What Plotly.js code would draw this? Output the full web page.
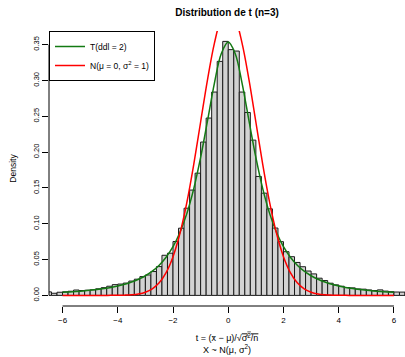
<!DOCTYPE html>
<html>
<head>
<meta charset="utf-8">
<script src="https://cdn.plot.ly/plotly-3.0.1.min.js"></script>
<style>html,body{margin:0;padding:0;background:#fff;}#chart{width:405px;height:357px;}</style>
</head>
<body>
<div id="chart"></div>
<script>
// Histogram bins (width 0.2), mid-points and observed densities
const binMids = [-6.5,-6.3,-6.1,-5.9,-5.7,-5.5,-5.3,-5.1,-4.9,-4.7,-4.5,-4.3,-4.1,-3.9,-3.7,-3.5,-3.3,-3.1,-2.9,-2.7,-2.5,-2.3,-2.1,-1.9,-1.7,-1.5,-1.3,-1.1,-0.9,-0.7,-0.5,-0.3,-0.1,
                 0.1,0.3,0.5,0.7,0.9,1.1,1.3,1.5,1.7,1.9,2.1,2.3,2.5,2.7,2.9,3.1,3.3,3.5,3.7,3.9,4.1,4.3,4.5,4.7,4.9,5.1,5.3,5.5,5.7,5.9,6.1,6.3,6.5];
const histDensity = [0.0049,0.0030,0.0044,0.0050,0.0058,0.0075,0.0068,0.0072,0.0078,0.0092,0.0108,0.0128,0.0150,0.0158,0.0172,0.0200,0.0226,0.0262,0.0285,0.0333,0.0402,0.0560,0.0589,0.0752,0.0938,0.1217,0.1470,0.1706,0.2140,0.2475,0.2838,0.3266,0.3545,
                     0.3430,0.3410,0.2838,0.2553,0.2167,0.1660,0.1427,0.1208,0.0940,0.0750,0.0610,0.0540,0.0460,0.0400,0.0340,0.0300,0.0240,0.0207,0.0170,0.0147,0.0128,0.0110,0.0105,0.0090,0.0087,0.0076,0.0068,0.0077,0.0060,0.0052,0.0047,0.0046,0.0045];
const binWidth = 0.2;

// Density curves
const tGrid = [-6,-5.75,-5.5,-5.25,-5,-4.75,-4.5,-4.25,-4,-3.75,-3.5,-3.25,-3,-2.75,-2.5,-2.25,-2,-1.75,-1.5,-1.25,-1,-0.75,-0.5,-0.25,0,
               0.25,0.5,0.75,1,1.25,1.5,1.75,2,2.25,2.5,2.75,3,3.25,3.5,3.75,4,4.25,4.5,4.75,5,5.25,5.5,5.75,6];
const densT2 = [0.00427,0.00482,0.00546,0.00622,0.00713,0.00822,0.00953,0.0111,0.0131,0.0155,0.0186,0.0225,0.0274,0.0338,0.0422,0.0533,0.0680,0.0878,0.1141,0.1487,0.1925,0.2438,0.2963,0.3376,0.3536,
                0.3376,0.2963,0.2438,0.1925,0.1487,0.1141,0.0878,0.0680,0.0533,0.0422,0.0338,0.0274,0.0225,0.0186,0.0155,0.0131,0.0111,0.00953,0.00822,0.00713,0.00622,0.00546,0.00482,0.00427];
const densNorm = [0,0,0,0,0,0,0,0.00005,0.00013,0.00035,0.00087,0.0020,0.0044,0.0091,0.0175,0.0317,0.0540,0.0863,0.1295,0.1826,0.2420,0.3011,0.3521,0.3867,0.3989,
                  0.3867,0.3521,0.3011,0.2420,0.1826,0.1295,0.0863,0.0540,0.0317,0.0175,0.0091,0.0044,0.0020,0.00087,0.00035,0.00013,0.00005,0,0,0,0,0,0,0];

const xTicks = [-6,-4,-2,0,2,4,6];
const yTicks = [0,0.05,0.10,0.15,0.20,0.25,0.30,0.35];
const seriesNames = ['T(ddl = 2)', 'N(μ = 0, σ<sup>2</sup> = 1)'];

const FONT = 'Liberation Sans, Arial, Helvetica, sans-serif';

const traces = [
  {
    type: 'bar', x: binMids, y: histDensity, width: binWidth,
    marker: {color: '#d3d3d3', line: {color: '#1a1a1a', width: 1}},
    showlegend: false, hoverinfo: 'x+y'
  },
  {
    type: 'scatter', mode: 'lines', x: tGrid, y: densT2, name: seriesNames[0],
    line: {color: '#137a13', width: 1.5, shape: 'spline', smoothing: 1}
  },
  {
    type: 'scatter', mode: 'lines', x: tGrid, y: densNorm, name: seriesNames[1],
    line: {color: '#ff0000', width: 1.5, shape: 'spline', smoothing: 1}
  }
];

const layout = {
  width: 405, height: 357,
  margin: {l: 49, r: 0, t: 31, b: 51, pad: 0},
  paper_bgcolor: '#ffffff', plot_bgcolor: '#ffffff',
  font: {family: FONT, size: 8, color: '#000'},
  bargap: 0,
  title: {text: '<b>Distribution de t (n=3)</b>', font: {family: FONT, size: 10, color: '#000'},
          x: 0.5, xref: 'paper', xanchor: 'center', y: 1 - 12/357, yref: 'container', yanchor: 'middle'},
  xaxis: {
    range: [-6.49, 6.40], tickmode: 'array', tickvals: xTicks, ticktext: xTicks.map(v => v < 0 ? '\u2212' + Math.abs(v) : String(v)),
    ticks: 'outside', ticklen: 6, tickcolor: '#000', tickwidth: 1,
    showgrid: false, zeroline: false, showline: false,
    tickfont: {family: FONT, size: 8, color: '#000'},
    title: {text: 't = (x\u0304 \u2212 \u03bc)/\u221a<span style="text-decoration:overline">\u03c3\u0302<sup>2</sup>/n</span><br>X ~ N(\u03bc, \u03c3<sup>2</sup>)',
            font: {family: FONT, size: 9, color: '#000'}, standoff: 11}
  },
  yaxis: {
    range: [-0.0148, 0.369], tickmode: 'array', tickvals: yTicks, ticktext: yTicks.map(v => v.toFixed(2)),
    ticks: 'outside', ticklen: 6, tickcolor: '#000', tickwidth: 1, tickangle: -90,
    showgrid: false, zeroline: false, showline: false,
    tickfont: {family: FONT, size: 7.5, color: '#000'},
    title: {text: 'Density', font: {family: FONT, size: 8.5, color: '#000'}, standoff: 14}
  },
  legend: {
    x: 0, y: 1, xref: 'paper', yref: 'paper', xanchor: 'left', yanchor: 'top',
    bgcolor: '#ffffff', bordercolor: '#000', borderwidth: 1,
    font: {family: FONT, size: 8.5, color: '#000'}, itemwidth: 30, tracegroupgap: 0
  },
  shapes: [
    {type: 'line', xref: 'x', yref: 'paper', x0: xTicks[0], x1: xTicks[xTicks.length - 1], y0: 0, y1: 0,
     line: {color: '#000', width: 1}},
    {type: 'line', xref: 'paper', yref: 'y', x0: 0, x1: 0, y0: yTicks[0], y1: yTicks[yTicks.length - 1],
     line: {color: '#000', width: 1}}
  ]
};

Plotly.newPlot('chart', traces, layout, {displayModeBar: false, staticPlot: true});
</script>
</body>
</html>
